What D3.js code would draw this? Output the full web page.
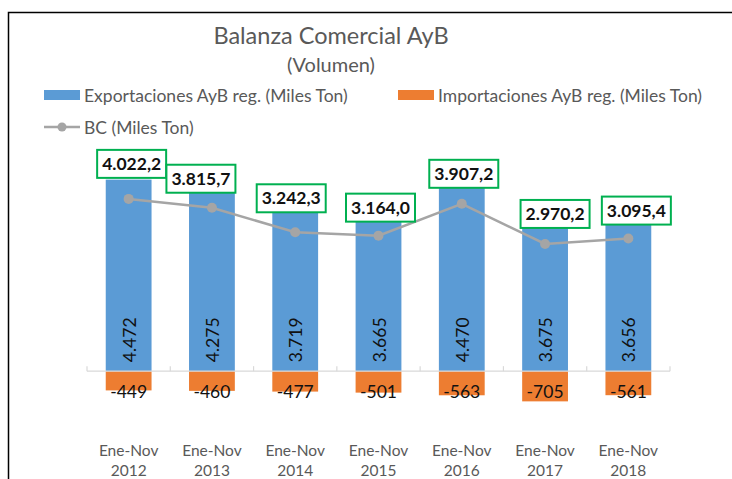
<!DOCTYPE html>
<html>
<head>
<meta charset="utf-8">
<script src="https://cdn.jsdelivr.net/npm/d3@7"></script>
<style>
  body { margin: 0; background: #fff; }
  text { font-family: Lato, "Noto Sans", sans-serif; }
</style>
</head>
<body>
<div id="chart"></div>
<script>
// data
var years = ["2012", "2013", "2014", "2015", "2016", "2017", "2018"];
var periodLabel = "Ene-Nov";
var exportaciones = [4472, 4275, 3719, 3665, 4470, 3675, 3656];
var importaciones = [-449, -460, -477, -501, -563, -705, -561];
var balanza = [4022.2, 3815.7, 3242.3, 3164.0, 3907.2, 2970.2, 3095.4];
var yDomain = [-1000, 5000];

// manual nudges of the BC label boxes (dx, gap above point), like the original
var boxNudge = [[3, 20], [-11, 14], [-4, 19], [2, 13], [2, 15], [10, 15], [8, 13]];

var width = 732, height = 479;
var fmtInt = function(v) {
  return d3.format(",.0f")(v).replace(/,/g, ".");
};
var fmtDec = function(v) {
  return d3.format(",.1f")(v).replace(/,/g, "#").replace(".", ",").replace(/#/g, ".");
};

var svg = d3.select("#chart")
  .append("svg")
  .attr("width", width)
  .attr("height", height);

// outer frame (left and top edges visible)
svg.append("path")
  .attr("d", "M8.5," + height + "V12.5H" + width)
  .attr("fill", "none")
  .attr("stroke", "#000")
  .attr("stroke-width", 1.5);

// title
svg.append("text")
  .attr("x", 331).attr("y", 44)
  .attr("text-anchor", "middle")
  .style("font-size", "23.5px")
  .style("fill", "#595959")
  .text("Balanza Comercial AyB");
svg.append("text")
  .attr("x", 331).attr("y", 72)
  .attr("text-anchor", "middle")
  .style("font-size", "20px")
  .style("fill", "#595959")
  .text("(Volumen)");

// scales
var xCat = d3.scaleBand()
  .domain(years)
  .range([87, 670])
  .padding(0);
var xBar = d3.scaleBand()
  .domain(years)
  .range([87, 670])
  .paddingInner(0.45)
  .paddingOuter(0.225);
var y = d3.scaleLinear()
  .domain(yDomain)
  .range([414, 157]);

// bars
svg.append("g").selectAll("rect")
  .data(exportaciones)
  .enter()
  .append("rect")
    .attr("x", function(d, i) { return xBar(years[i]); })
    .attr("width", xBar.bandwidth())
    .attr("y", function(d) { return y(d); })
    .attr("height", function(d) { return y(0) - y(d); })
    .attr("fill", "#5B9BD5");

svg.append("g").selectAll("rect")
  .data(importaciones)
  .enter()
  .append("rect")
    .attr("x", function(d, i) { return xBar(years[i]); })
    .attr("width", xBar.bandwidth())
    .attr("y", y(0))
    .attr("height", function(d) { return y(d) - y(0); })
    .attr("fill", "#ED7D31");

// category axis
var axis = svg.append("g")
  .attr("transform", "translate(0," + y(0) + ")");
axis.append("line")
  .attr("x1", 87).attr("x2", 670)
  .attr("stroke", "#D9D9D9").attr("stroke-width", 1.2);
axis.selectAll(".tick")
  .data(years.concat(["end"]))
  .enter()
  .append("line")
    .attr("x1", function(d, i) { return 87 + i * xCat.step(); })
    .attr("x2", function(d, i) { return 87 + i * xCat.step(); })
    .attr("y1", -5).attr("y2", 0)
    .attr("stroke", "#D9D9D9").attr("stroke-width", 1.2);

var catLabels = svg.append("g").selectAll("text")
  .data(years)
  .enter()
  .append("text")
    .attr("x", function(d) { return xCat(d) + xCat.bandwidth() / 2; })
    .attr("y", 456)
    .attr("text-anchor", "middle")
    .style("font-size", "15.5px")
    .style("fill", "#595959");
catLabels.append("tspan").text(periodLabel);
catLabels.append("tspan")
  .attr("x", function(d) { return xCat(d) + xCat.bandwidth() / 2; })
  .attr("dy", 20)
  .text(function(d) { return d; });

// export labels (rotated, inside base)
svg.append("g").selectAll("text")
  .data(exportaciones)
  .enter()
  .append("text")
    .attr("transform", function(d, i) {
      return "translate(" + (xBar(years[i]) + xBar.bandwidth() / 2 + 7) + "," + (y(0) - 9) + ") rotate(-90)";
    })
    .style("font-size", "17.5px")
    .style("fill", "#111")
    .text(function(d) { return fmtInt(d); });

// import labels
svg.append("g").selectAll("text")
  .data(importaciones)
  .enter()
  .append("text")
    .attr("x", function(d, i) { return xBar(years[i]) + xBar.bandwidth() / 2; })
    .attr("y", y(0) + 27)
    .attr("text-anchor", "middle")
    .style("font-size", "17.5px")
    .style("fill", "#111")
    .text(function(d) { return "-" + fmtInt(-d); });

// BC line
var line = d3.line()
  .x(function(d, i) { return xCat(years[i]) + xCat.bandwidth() / 2; })
  .y(function(d) { return y(d); });
svg.append("path")
  .datum(balanza)
  .attr("d", line)
  .attr("fill", "none")
  .attr("stroke", "#A5A5A5")
  .attr("stroke-width", 2.5);
svg.append("g").selectAll("circle")
  .data(balanza)
  .enter()
  .append("circle")
    .attr("cx", function(d, i) { return xCat(years[i]) + xCat.bandwidth() / 2; })
    .attr("cy", function(d) { return y(d); })
    .attr("r", 5)
    .attr("fill", "#A5A5A5");

// BC label boxes
var boxes = svg.append("g").selectAll("g")
  .data(balanza)
  .enter()
  .append("g")
    .attr("transform", function(d, i) {
      var cx = xCat(years[i]) + xCat.bandwidth() / 2 + boxNudge[i][0];
      var bottom = y(d) - boxNudge[i][1];
      return "translate(" + cx + "," + bottom + ")";
    });
boxes.append("rect")
  .attr("x", -34.5).attr("y", -29)
  .attr("width", 69).attr("height", 28)
  .attr("fill", "#fff")
  .attr("stroke", "#00B050")
  .attr("stroke-width", 2);
boxes.append("text")
  .attr("x", 0).attr("y", -9)
  .attr("text-anchor", "middle")
  .style("font-size", "17.5px")
  .style("font-weight", "bold")
  .style("fill", "#111")
  .text(function(d) { return fmtDec(d); });

// legend
var legend = svg.append("g");
legend.append("rect")
  .attr("x", 44).attr("y", 90).attr("width", 36).attr("height", 10)
  .attr("fill", "#5B9BD5");
legend.append("text")
  .attr("x", 84).attr("y", 102)
  .style("font-size", "17.5px").style("fill", "#595959")
  .text("Exportaciones AyB reg. (Miles Ton)");
legend.append("rect")
  .attr("x", 398).attr("y", 90).attr("width", 36).attr("height", 10)
  .attr("fill", "#ED7D31");
legend.append("text")
  .attr("x", 438).attr("y", 102)
  .style("font-size", "17.5px").style("fill", "#595959")
  .text("Importaciones AyB reg. (Miles Ton)");
legend.append("line")
  .attr("x1", 44).attr("x2", 80).attr("y1", 127).attr("y2", 127)
  .attr("stroke", "#A5A5A5").attr("stroke-width", 2.5);
legend.append("circle")
  .attr("cx", 62).attr("cy", 127).attr("r", 4.5)
  .attr("fill", "#A5A5A5");
legend.append("text")
  .attr("x", 84).attr("y", 134)
  .style("font-size", "17.5px").style("fill", "#595959")
  .text("BC (Miles Ton)");
</script>
</body>
</html>
